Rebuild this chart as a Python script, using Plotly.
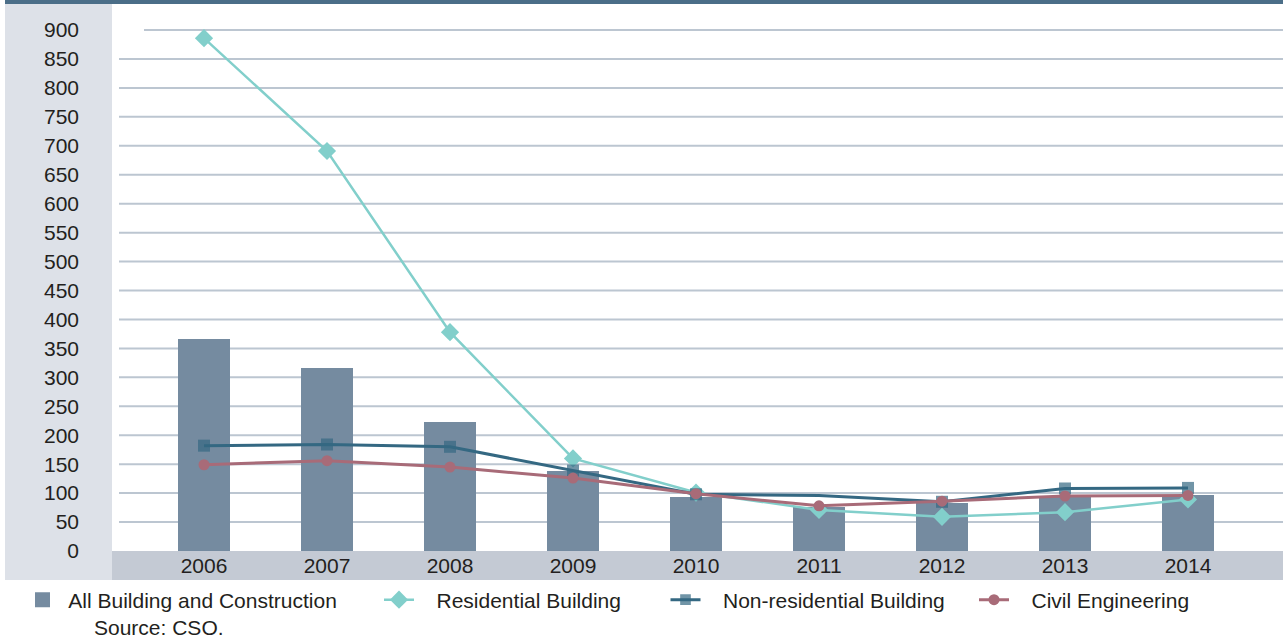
import plotly.graph_objects as go

years = ['2006', '2007', '2008', '2009', '2010', '2011', '2012', '2013', '2014']
all_building = [366, 316, 223, 138, 94, 76, 83, 93, 97]
residential = [886, 691, 378, 160, 101, 71, 59, 67, 89]
non_residential = [182, 184, 180, 139, 98, 96, 85, 108, 109]
civil_eng = [149, 156, 145, 126, 99, 78, 86, 95, 96]
y_ticks = list(range(0, 901, 50))

W, H = 1283, 638
ML, MR, MT, MB = 119, 0, 4, 87
PW, PH = W - ML - MR, H - MT - MB


def px(x):
    return (x - ML) / PW


def py(y):
    return (H - MB - y) / PH


FONT = 'Liberation Sans, Arial, sans-serif'
FS = 21
TXT = '#231f20'
BAR_C = '#758ba0'
RES_C = '#82cfcb'
NON_C = '#346882'
CIV_C = '#a86b78'
NB = '\u00a0'
NOLINE = dict(width=0)

fig = go.Figure()
fig.add_trace(go.Bar(x=years, y=all_building, width=0.42, marker=dict(color=BAR_C, line=NOLINE),
                     name='All Building and Construction', showlegend=False, legendgroup='all'))
# legend-only entry for the bar series (square symbol like the reference)
fig.add_trace(go.Scatter(x=[None], y=[None], mode='markers', name=NB + 'All Building and Construction',
                         marker=dict(symbol='square', size=15, color=BAR_C, line=NOLINE),
                         legendgroup='all', legend='legend'))
fig.add_trace(go.Scatter(x=years, y=residential, mode='lines+markers', name=NB * 3 + 'Residential Building',
                         line=dict(color=RES_C, width=2.5),
                         marker=dict(symbol='diamond', size=14, color=RES_C, line=NOLINE),
                         legend='legend2'))
fig.add_trace(go.Scatter(x=years, y=non_residential, mode='lines+markers',
                         name=NB * 3 + 'Non-residential Building',
                         line=dict(color=NON_C, width=3),
                         marker=dict(symbol='square', size=[12, 12, 12, 12, 12, 0, 12, 12, 12], color=NON_C,
                                     line=NOLINE),
                         legend='legend3'))
fig.add_trace(go.Scatter(x=years, y=civil_eng, mode='lines+markers', name=NB * 3 + 'Civil Engineering',
                         line=dict(color=CIV_C, width=3),
                         marker=dict(symbol='circle', size=11, color=CIV_C, line=NOLINE),
                         legend='legend4'))

shapes = []
# top dark bar
shapes.append(dict(type='rect', xref='paper', yref='paper', x0=px(5), x1=1, y0=py(0), y1=py(4),
                   fillcolor='#4b6e88', line=dict(width=0), layer='below'))
# left grey panel
shapes.append(dict(type='rect', xref='paper', yref='paper', x0=px(5), x1=px(112), y0=py(580), y1=py(4),
                   fillcolor='#dde1e8', line=dict(width=0), layer='below'))
# bottom axis band
shapes.append(dict(type='rect', xref='paper', yref='paper', x0=px(112), x1=1, y0=py(580), y1=py(551),
                   fillcolor='#c4cad4', line=dict(width=0), layer='below'))
# gridlines
for v in y_ticks[1:]:
    x0 = px(144) if v == 900 else 0
    shapes.append(dict(type='line', xref='paper', yref='y', x0=x0, x1=1, y0=v, y1=v,
                       line=dict(color='#bcc6d1', width=2), layer='below'))

legend_common = dict(orientation='h', xref='container', yref='container', yanchor='middle', xanchor='left',
                     font=dict(family=FONT, size=FS, color=TXT), bgcolor='rgba(0,0,0,0)', borderwidth=0)
leg_y = 1 - 600 / H

fig.update_layout(
    width=W, height=H,
    margin=dict(l=ML, r=MR, t=MT, b=MB, pad=0),
    paper_bgcolor='white', plot_bgcolor='white',
    font=dict(family=FONT, size=FS, color=TXT),
    shapes=shapes,
    xaxis=dict(type='category', range=[(119 - 204) / 123, (1283 - 204) / 123], showgrid=False,
               zeroline=False, showline=False, ticks='', tickfont=dict(family=FONT, size=FS, color=TXT)),
    yaxis=dict(range=[0, 945], tickvals=y_ticks, showgrid=False, zeroline=False, showline=False, ticks='',
               ticklabelstandoff=39, tickfont=dict(family=FONT, size=FS, color=TXT)),
    legend=dict(**legend_common, x=(42.5 - 20) / W, y=leg_y),
    legend2=dict(**legend_common, x=(399 - 20) / W, y=leg_y),
    legend3=dict(**legend_common, x=(685.5 - 20) / W, y=leg_y),
    legend4=dict(**legend_common, x=(994 - 20) / W, y=leg_y),
    annotations=[dict(text='Source: CSO.', xref='paper', yref='paper', x=px(92), y=py(627), xanchor='left',
                      yanchor='middle', showarrow=False, font=dict(family=FONT, size=FS, color=TXT))],
    bargap=0,
)

fig.write_html('out.html')
